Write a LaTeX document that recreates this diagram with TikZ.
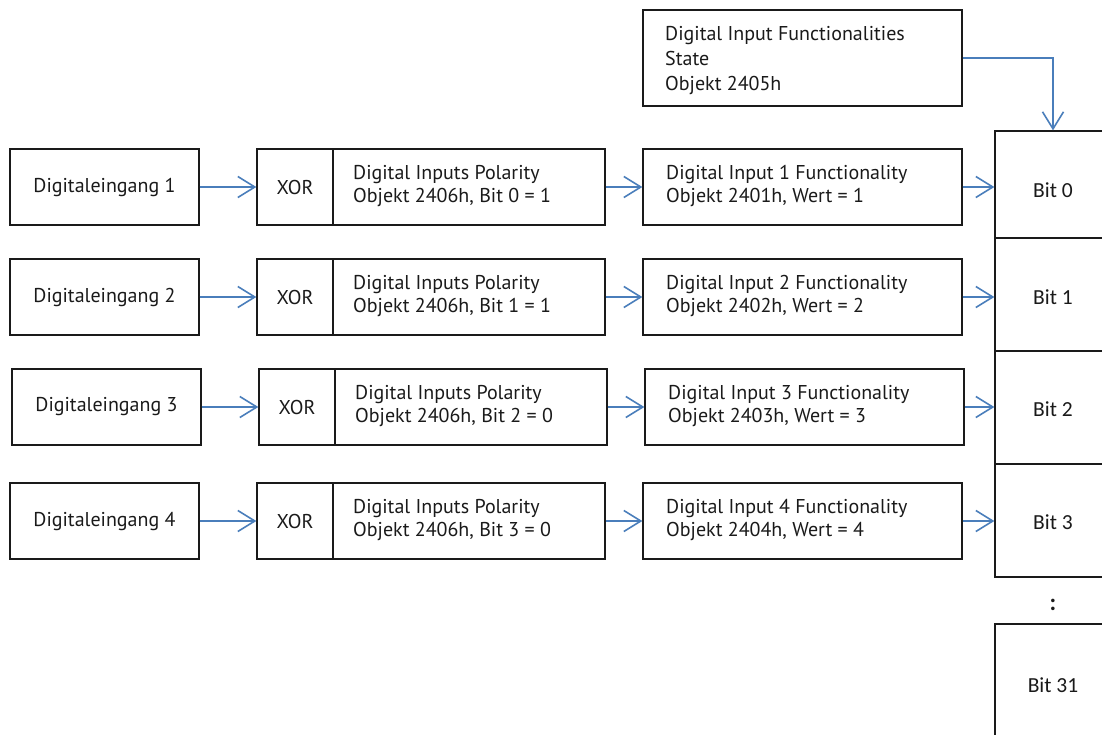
\documentclass[tikz,border=0pt]{standalone}
\usepackage{fontspec}
\setmainfont{PT Sans}
\newfontfamily\bitfont{Carlito}
\usetikzlibrary{arrows.meta}
\definecolor{linkblue}{RGB}{74,126,187}
\definecolor{ink}{RGB}{26,26,26}
\tikzset{
  box/.style={draw=ink, line width=1.3pt, inner sep=0pt, rectangle},
  lbl/.style={font=\fontsize{20}{22.5}\selectfont, text=ink, inner sep=0pt, align=left},
  bitlbl/.style={font=\bitfont\fontsize{21.5}{24}\selectfont, text=ink, inner sep=0pt},
  flow/.style={draw=linkblue, line width=1.6pt, -{Straight Barb[length=17pt,width=21pt]}},
}
\begin{document}
\begin{tikzpicture}[x=1pt,y=-1pt]
\useasboundingbox (0,0) rectangle (1102,734);
\clip (0,0) rectangle (1102,734);

% state object feeding bit 0
\node[box, minimum width=319pt, minimum height=96pt] (state) at (802.5,58) {};
\node[lbl, anchor=west, font=\fontsize{20}{25}\selectfont] (statetxt) at (665,61)
  {Digital Input Functionalities\\State\\Objekt 2405h};

% bit column: cells, then their labels
\node[box, minimum width=116pt, minimum height=107pt] (bit0) at (1053,184.5) {};
\node[box, minimum width=116pt, minimum height=113pt] (bit1) at (1053,294.5) {};
\node[box, minimum width=116pt, minimum height=113pt] (bit2) at (1053,407.5) {};
\node[box, minimum width=116pt, minimum height=113pt] (bit3) at (1053,520.5) {};
\node[box, minimum width=116pt, minimum height=122pt] (bit31) at (1053,685) {};
\node[bitlbl] (bit0txt) at (1053,190) {Bit 0};
\node[bitlbl] (bit1txt) at (1053,297) {Bit 1};
\node[bitlbl] (bit2txt) at (1053,409) {Bit 2};
\node[bitlbl] (bit3txt) at (1053,522) {Bit 3};
\node[bitlbl] (bit31txt) at (1053,685) {Bit 31};
\node[bitlbl, font=\bitfont\bfseries\fontsize{24}{24}\selectfont] (dots) at (1053,605) {:};

\draw[flow] (state.east) -| (bit0.north);

% four input chains
\foreach \n/\t/\dx/\pv/\b in {1/149/0/1/0, 2/259/0/1/1, 3/369/2/0/2, 4/483/0/0/3}{
  \node[box, lbl, minimum width=189pt, minimum height=76pt] (in\n) at (104.5+\dx,\t+38) {Digitaleingang \n};
  \node[box, lbl, minimum width=76pt, minimum height=76pt] (xor\n) at (295+\dx,\t+38) {XOR};
  \node[box, minimum width=272pt, minimum height=76pt] (pol\n) at (469+\dx,\t+38) {};
  \node[lbl, anchor=west] (poltxt\n) at (353+\dx,\t+37)
    {Digital Inputs Polarity\\Objekt 2406h, Bit \b\ = \pv};
  \node[box, minimum width=319pt, minimum height=76pt] (fun\n) at (802.5+\dx,\t+38) {};
  \node[lbl, anchor=west] (funtxt\n) at (666+\dx,\t+37)
    {Digital Input \n\ Functionality\\Objekt 240\n h, Wert = \n};
  \draw[flow] (in\n.east) -- (xor\n.west);
  \draw[flow] (pol\n.east) -- (fun\n.west);
  \draw[flow] (fun\n.east) -- (fun\n.east -| bit0.west);
}
\end{tikzpicture}
\end{document}
